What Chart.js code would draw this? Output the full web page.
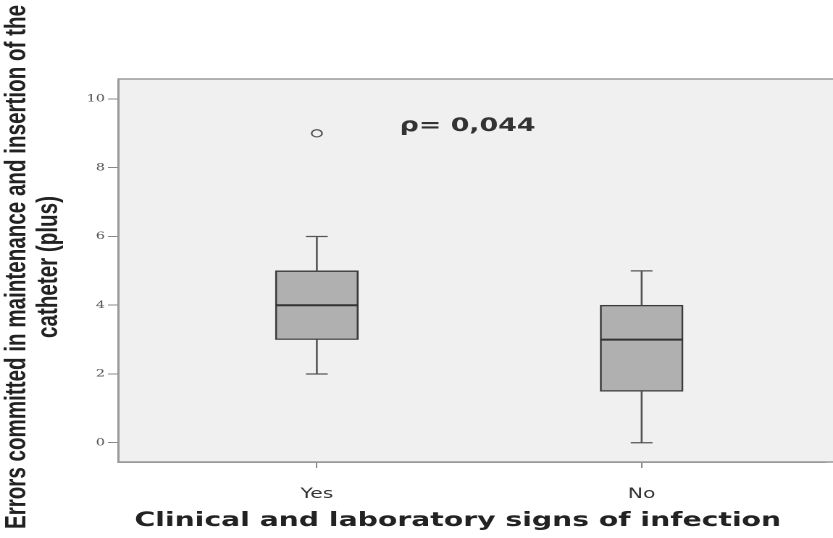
<!DOCTYPE html>
<html>
<head>
<meta charset="utf-8">
<script src="https://cdn.jsdelivr.net/npm/chart.js@4"></script>
<style>
  html, body { margin: 0; padding: 0; background: #fff; overflow: hidden; }
  /* the source picture is stretched sideways, so the whole chart is too */
  #wrap { width: 575px; height: 538px; transform: scaleX(1.4487); transform-origin: 0 0; }
</style>
</head>
<body>
<div id="wrap"><canvas id="boxChart" width="575" height="538"></canvas></div>
<script>
// data
const categories = ["Yes", "No"];
const whiskerLow = [2, 0];
const q1 = [3, 1.5];
const median = [4, 3];
const q3 = [5, 4];
const whiskerHigh = [6, 5];
const outliers = [[9], []];
const yTicks = [0, 2, 4, 6, 8, 10];

const xTitle = "Clinical and laboratory signs of infection";
const yTitle = ["Errors committed in maintenance and insertion of the", "catheter (plus)"];
const note = "\u03C1= 0,044";
const notePos = { x: 0.255, y: 9.21 };

const boxWidth = 57;
const capWidth = 15;

const outlierPoints = [];
outliers.forEach((list, i) => list.forEach(v => outlierPoints.push({ x: i, y: v })));

const boxPlugin = {
  id: 'boxPlugin',
  beforeDraw(chart) {
    const a = chart.chartArea, ctx = chart.ctx;
    ctx.save();
    ctx.fillStyle = '#f0f0f0';
    ctx.fillRect(a.left, a.top, chart.width - a.left, a.bottom - a.top);
    ctx.restore();
  },
  afterDatasetsDraw(chart) {
    const ctx = chart.ctx, xs = chart.scales.x, ys = chart.scales.y;
    ctx.save();
    categories.forEach((c, i) => {
      const px = xs.getPixelForValue(i);
      // whiskers
      ctx.strokeStyle = '#555';
      ctx.lineWidth = 1.3;
      ctx.beginPath();
      ctx.moveTo(px, ys.getPixelForValue(q3[i]));
      ctx.lineTo(px, ys.getPixelForValue(whiskerHigh[i]));
      ctx.moveTo(px, ys.getPixelForValue(q1[i]));
      ctx.lineTo(px, ys.getPixelForValue(whiskerLow[i]));
      ctx.moveTo(px - capWidth / 2, ys.getPixelForValue(whiskerHigh[i]));
      ctx.lineTo(px + capWidth / 2, ys.getPixelForValue(whiskerHigh[i]));
      ctx.moveTo(px - capWidth / 2, ys.getPixelForValue(whiskerLow[i]));
      ctx.lineTo(px + capWidth / 2, ys.getPixelForValue(whiskerLow[i]));
      ctx.stroke();
      // median
      ctx.strokeStyle = '#333';
      ctx.lineWidth = 2;
      ctx.beginPath();
      ctx.moveTo(px - boxWidth / 2, ys.getPixelForValue(median[i]));
      ctx.lineTo(px + boxWidth / 2, ys.getPixelForValue(median[i]));
      ctx.stroke();
    });
    // note
    ctx.fillStyle = '#333';
    ctx.font = 'bold 18.5px "DejaVu Sans"';
    ctx.textAlign = 'left';
    ctx.textBaseline = 'middle';
    ctx.fillText(note, xs.getPixelForValue(notePos.x), ys.getPixelForValue(notePos.y));
    ctx.restore();
  },
  afterDraw(chart) {
    const a = chart.chartArea, ctx = chart.ctx;
    ctx.save();
    // frame lines on top and bottom run to the edge
    ctx.strokeStyle = '#999';
    ctx.lineWidth = 1.5;
    ctx.beginPath();
    ctx.moveTo(a.left, a.top);
    ctx.lineTo(chart.width, a.top);
    ctx.moveTo(a.left, a.bottom);
    ctx.lineTo(chart.width, a.bottom);
    ctx.stroke();
    // axis titles
    ctx.fillStyle = '#222';
    ctx.textAlign = 'center';
    ctx.textBaseline = 'middle';
    ctx.font = 'bold 19.5px "DejaVu Sans"';
    ctx.fillText(xTitle, 316, 521);
    ctx.translate(0, 267);
    ctx.rotate(-Math.PI / 2);
    ctx.font = 'bold 20.6px "Liberation Sans"';
    ctx.fillText(yTitle[0], 0, 12);
    ctx.fillText(yTitle[1], 0, 34);
    ctx.restore();
  }
};

new Chart(document.getElementById('boxChart'), {
  data: {
    datasets: [{
      type: 'bar',
      data: categories.map((c, i) => ({ x: i, y: [q1[i], q3[i]] })),
      backgroundColor: '#b0b0b0',
      borderColor: '#3a3a3a',
      borderWidth: 1.3,
      borderSkipped: false,
      barThickness: boxWidth,
      grouped: false
    }, {
      type: 'scatter',
      data: outlierPoints,
      pointRadius: 3.6,
      pointBackgroundColor: 'rgba(0,0,0,0)',
      pointBorderColor: '#555',
      pointBorderWidth: 1.2
    }]
  },
  options: {
    responsive: false,
    devicePixelRatio: 2,
    animation: false,
    layout: { padding: { left: 0, right: 0, top: 79, bottom: 0 } },
    plugins: { legend: { display: false }, tooltip: { enabled: false } },
    scales: {
      x: {
        type: 'linear',
        offset: false,
        min: -0.612,
        max: 1.566,
        afterBuildTicks: s => { s.ticks = categories.map((c, i) => ({ value: i })); },
        afterFit: s => { s.height = 76; },
        ticks: {
          callback: v => categories[v],
          color: '#333',
          font: { family: 'DejaVu Sans', size: 14 },
          padding: 18,
          maxRotation: 0
        },
        grid: { offset: false, drawOnChartArea: false, tickLength: 6, color: '#888' },
        border: { color: '#999', width: 1.5 }
      },
      y: {
        min: -0.56,
        max: 10.58,
        afterBuildTicks: s => { s.ticks = yTicks.map(v => ({ value: v })); },
        afterFit: s => { s.width = 81.5; },
        ticks: {
          color: '#555',
          font: { family: 'DejaVu Serif', size: 10 },
          padding: 2
        },
        grid: { drawOnChartArea: false, tickLength: 7, color: '#888' },
        border: { color: '#999', width: 1.5 }
      }
    }
  },
  plugins: [boxPlugin]
});
</script>
</body>
</html>
